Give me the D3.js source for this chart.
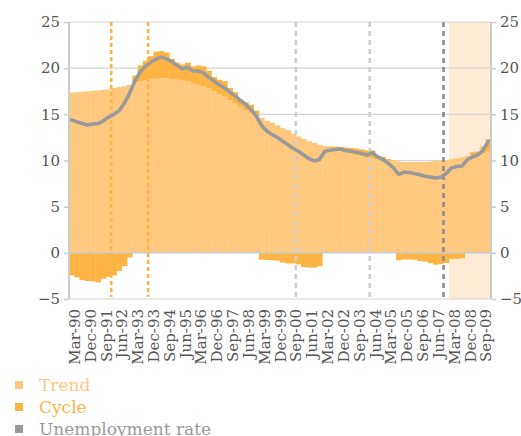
<!DOCTYPE html>
<html>
<head>
<meta charset="utf-8">
<script src="https://cdn.jsdelivr.net/npm/d3@7"></script>
<style>
  body { margin: 0; background: #fff; }
  svg { display: block; }
  text { font-family: "DejaVu Serif", "Liberation Serif", serif; }
</style>
</head>
<body>
<svg id="chart" width="521" height="436"></svg>
<script>
// Quarterly periods, Mar-90 .. Dec-09
const quarters = [
  "Mar-90","Jun-90","Sep-90","Dec-90","Mar-91","Jun-91","Sep-91","Dec-91",
  "Mar-92","Jun-92","Sep-92","Dec-92","Mar-93","Jun-93","Sep-93","Dec-93",
  "Mar-94","Jun-94","Sep-94","Dec-94","Mar-95","Jun-95","Sep-95","Dec-95",
  "Mar-96","Jun-96","Sep-96","Dec-96","Mar-97","Jun-97","Sep-97","Dec-97",
  "Mar-98","Jun-98","Sep-98","Dec-98","Mar-99","Jun-99","Sep-99","Dec-99",
  "Mar-00","Jun-00","Sep-00","Dec-00","Mar-01","Jun-01","Sep-01","Dec-01",
  "Mar-02","Jun-02","Sep-02","Dec-02","Mar-03","Jun-03","Sep-03","Dec-03",
  "Mar-04","Jun-04","Sep-04","Dec-04","Mar-05","Jun-05","Sep-05","Dec-05",
  "Mar-06","Jun-06","Sep-06","Dec-06","Mar-07","Jun-07","Sep-07","Dec-07",
  "Mar-08","Jun-08","Sep-08","Dec-08","Mar-09","Jun-09","Sep-09","Dec-09"
];

// Trend component of unemployment (%)
const trend = [
  17.35,17.4,17.45,17.5,17.55,17.6,17.65,17.7,17.85,17.95,18.05,18.2,
  18.5,18.6,18.7,18.8,18.85,18.9,18.9,18.8,18.75,18.7,18.6,18.4,
  18.2,18.0,17.8,17.5,17.2,16.9,16.5,16.2,15.8,15.4,15.15,14.8,
  14.6,14.3,14.1,13.8,13.5,13.3,12.9,12.6,12.35,12.1,11.9,11.7,
  11.5,11.35,11.2,11.05,10.9,10.75,10.6,10.45,10.3,10.2,10.1,10.05,
  10.0,9.95,9.9,9.85,9.85,9.85,9.85,9.85,9.9,9.95,10.0,10.05,
  10.15,10.25,10.35,10.45,10.55,10.65,10.8,10.95
];

// Cyclical component (percentage points)
const cycle = [
  -2.45,-2.65,-2.95,-3.05,-3.1,-3.2,-2.8,-2.6,-2.45,-1.95,-1.45,-0.5,
  0.7,1.7,2.1,2.5,2.95,2.95,2.8,2.2,1.85,1.7,2.0,1.8,
  2.1,2.2,1.9,1.55,1.55,1.7,1.35,1.2,0.8,0.9,0.9,0.6,
  -0.75,-0.78,-0.8,-0.85,-1.05,-1.15,-1.15,-1.25,-1.55,-1.6,-1.6,-1.45,
  0.05,0.15,0.3,0.4,0.5,0.6,0.7,0.75,0.8,0.9,0.4,0.35,
  0.15,0.05,-0.8,-0.72,-0.72,-0.75,-0.88,-0.95,-1.12,-1.28,-1.2,-1.1,
  -0.65,-0.65,-0.58,0.05,0.35,0.3,0.7,1.35
];

// Unemployment rate (%)
const unemployment = [
  14.4,14.2,14.0,13.85,13.95,14.0,14.3,14.7,15.0,15.4,16.2,17.3,
  18.6,19.6,20.2,20.6,21.0,21.2,21.0,20.7,20.3,19.9,20.1,19.7,
  19.7,19.5,19.0,18.6,18.2,17.85,17.4,17.0,16.5,16.1,15.5,14.8,
  13.8,13.2,12.8,12.5,12.1,11.7,11.3,11.0,10.6,10.2,9.95,10.1,
  11.0,11.1,11.2,11.25,11.05,11.0,10.9,10.75,10.6,10.85,10.4,10.1,
  9.7,9.2,8.5,8.75,8.7,8.6,8.45,8.3,8.2,8.1,8.2,8.6,
  9.2,9.35,9.4,10.1,10.4,10.6,11.1,12.1
];

const yTicks = [-5, 0, 5, 10, 15, 20, 25];
const xTickLabels = [
  "Mar-90","Dec-90","Sep-91","Jun-92","Mar-93","Dec-93","Sep-94","Jun-95","Mar-96",
  "Dec-96","Sep-97","Jun-98","Mar-99","Dec-99","Sep-00","Jun-01","Mar-02","Dec-02",
  "Sep-03","Jun-04","Mar-05","Dec-05","Sep-06","Jun-07","Mar-08","Dec-08","Sep-09"
];
const yearStarts = quarters.filter(q => q.startsWith("Mar") && q !== "Mar-90");

// Turning-point markers and the shaded forecast period
const orangeMarks = ["Mar-92", "Dec-93"];
const greyMarks = ["Dec-00", "Jun-04"];
const darkMarks = ["Dec-07"];
const shadeFrom = "Mar-08";

const legendItems = ["Trend", "Cycle", "Unemployment rate"];

const C = {
  trend: "#fec97f",
  cycle: "#fdb443",
  line: "#9a9a9a",
  shade: "#fdebd5",
  grid: "#d6d6d6",
  axis: "#cccccc",
  text: "#555555"
};

const svg = d3.select("#chart");
const plotL = 69, plotR = 491, plotT = 22, plotB = 299;

const x = d3.scaleBand().domain(quarters).range([plotL, plotR]).padding(0);
const y = d3.scaleLinear().domain([-5, 25]).range([plotB, plotT]);
const bw = x.bandwidth();

// shaded period
svg.append("rect")
  .attr("x", x(shadeFrom)).attr("y", y(25))
  .attr("width", plotR - x(shadeFrom)).attr("height", y(-5) - y(25))
  .attr("fill", C.shade);

// horizontal gridlines
svg.append("g").selectAll("line").data(yTicks.filter(v => v !== 0)).join("line")
  .attr("x1", plotL).attr("x2", plotR)
  .attr("y1", d => y(d)).attr("y2", d => y(d))
  .attr("stroke", C.grid).attr("stroke-width", 1.2);

// trend bars
svg.append("g").selectAll("rect").data(quarters).join("rect")
  .attr("x", d => x(d)).attr("width", bw + 0.4)
  .attr("y", (d, i) => y(trend[i]))
  .attr("height", (d, i) => y(0) - y(trend[i]))
  .attr("fill", C.trend);

// cycle bars: stacked on the trend when positive, below zero when negative
svg.append("g").selectAll("rect").data(quarters).join("rect")
  .attr("x", d => x(d)).attr("width", bw + 0.4)
  .attr("y", (d, i) => cycle[i] >= 0 ? y(trend[i] + cycle[i]) : y(0))
  .attr("height", (d, i) => Math.abs(y(0) - y(cycle[i])))
  .attr("fill", C.cycle);

// zero axis with yearly tick marks
svg.append("line")
  .attr("x1", plotL).attr("x2", plotR).attr("y1", y(0)).attr("y2", y(0))
  .attr("stroke", C.axis).attr("stroke-width", 1.5);
svg.append("g").selectAll("line").data(yearStarts).join("line")
  .attr("x1", d => x(d)).attr("x2", d => x(d))
  .attr("y1", y(0)).attr("y2", y(0) - 5)
  .attr("stroke", C.axis).attr("stroke-width", 1.2);

// side axes
[plotL, plotR].forEach(ax => {
  svg.append("line").attr("x1", ax).attr("x2", ax).attr("y1", y(25)).attr("y2", y(-5))
    .attr("stroke", C.axis).attr("stroke-width", 2);
});
const yAxisL = d3.axisLeft(y).tickValues(yTicks).tickSize(4).tickPadding(4);
const yAxisR = d3.axisRight(y).tickValues(yTicks).tickSize(4).tickPadding(4);
function styleAxis(g) {
  g.select(".domain").remove();
  g.selectAll(".tick line").attr("stroke", C.axis).attr("stroke-width", 1.5);
  g.selectAll(".tick text").attr("fill", C.text).attr("font-size", 15)
    .attr("font-family", "DejaVu Serif, serif");
}
svg.append("g").attr("transform", `translate(${plotL - 1},0)`).call(yAxisL).call(styleAxis);
svg.append("g").attr("transform", `translate(${plotR + 1},0)`).call(yAxisR).call(styleAxis);

// vertical markers
function marks(list, color, dash) {
  svg.append("g").selectAll("line").data(list).join("line")
    .attr("x1", d => x(d)).attr("x2", d => x(d))
    .attr("y1", y(25)).attr("y2", y(-5) - 2)
    .attr("stroke", color).attr("stroke-width", 2.6)
    .attr("stroke-dasharray", dash);
}
marks(orangeMarks, "#fdb443", "4,3");
marks(greyMarks, "#cfcfcf", "5,4");
marks(darkMarks, "#8e8e8e", "5,4");

// unemployment rate line
const line = d3.line()
  .x((d, i) => x(quarters[i]) + bw / 2)
  .y(d => y(d))
  .curve(d3.curveLinear);
svg.append("path").datum(unemployment)
  .attr("d", line)
  .attr("fill", "none")
  .attr("stroke", C.line)
  .attr("stroke-width", 3.6)
  .attr("stroke-linejoin", "round")
  .attr("stroke-linecap", "round");

// x tick labels, rotated
svg.append("g").selectAll("text").data(xTickLabels).join("text")
  .attr("transform", d => `translate(${x(d) + bw / 2 + 3},${plotB + 10}) rotate(-90)`)
  .attr("text-anchor", "end")
  .attr("dy", "0.35em")
  .attr("font-size", 15)
  .attr("fill", C.text)
  .text(d => d);

// legend
const legendColors = [C.trend, C.cycle, C.line];
const lg = svg.append("g").selectAll("g").data(legendItems).join("g")
  .attr("transform", (d, i) => `translate(15,${385 + i * 22})`);
lg.append("rect").attr("x", 0).attr("y", -4).attr("width", 8).attr("height", 8)
  .attr("fill", (d, i) => legendColors[i]);
lg.append("text").attr("x", 24).attr("y", 6)
  .attr("font-size", 17)
  .attr("fill", (d, i) => legendColors[i])
  .text(d => d);
</script>
</body>
</html>
